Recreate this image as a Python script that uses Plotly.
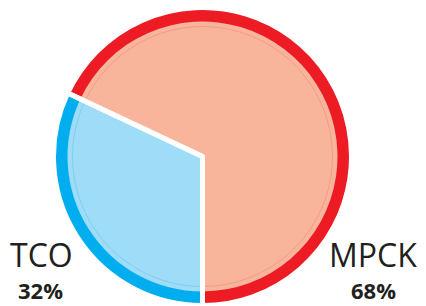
import plotly.graph_objects as go

labels = ["TCO", "MPCK"]
values = [32, 68]
pct_labels = ["32%", "68%"]

ring_colors = ["#00AEEF", "#ED1C24"]
fill_colors = ["#9EDCF7", "#F9B59B"]
line_colors = ["#7FCFF2", "#F29C87"]

W, H = 426, 306
cx, cy = 202.5, 156.5


def domain(r):
    return dict(x=[(cx - r) / W, (cx + r) / W],
                y=[(H - cy - r) / H, (H - cy + r) / H])


def pie(r, colors, line_color=None, line_width=0):
    return go.Pie(
        labels=labels, values=values, sort=False, direction="clockwise",
        rotation=180, textinfo="none", hoverinfo="skip", showlegend=False,
        domain=domain(r),
        marker=dict(colors=colors,
                    line=dict(color=line_color if line_color else "rgba(0,0,0,0)",
                              width=line_width)),
    )


fig = go.Figure()
fig.add_trace(pie(148, ring_colors))
fig.add_trace(pie(135, fill_colors))
fig.add_trace(pie(130, fill_colors, line_colors, 1))
fig.add_trace(pie(149, ["rgba(0,0,0,0)", "rgba(0,0,0,0)"], "#FFFFFF", 5))

text_color = "#231F20"
name_x = [41, 373]
pct_x = [40, 373]
for i in range(2):
    fig.add_annotation(x=name_x[i] / W, y=1 - 254 / H,
                       xref="paper", yref="paper", text=labels[i],
                       showarrow=False, xanchor="center", yanchor="middle", borderpad=0,
                       font=dict(family="Open Sans", size=32, color=text_color))
    fig.add_annotation(x=pct_x[i] / W, y=0,
                       xref="paper", yref="paper", text="<b>" + pct_labels[i] + "</b>",
                       showarrow=False, xanchor="center", yanchor="bottom", borderpad=0,
                       font=dict(family="Open Sans", size=22, color=text_color))

fig.update_layout(width=W, height=H, margin=dict(l=0, r=0, t=0, b=0),
                  paper_bgcolor="white", plot_bgcolor="white")
fig.write_html("out.html", config={"displayModeBar": False},
               post_script="document.body.style.margin='0';document.body.style.overflow='hidden';")
